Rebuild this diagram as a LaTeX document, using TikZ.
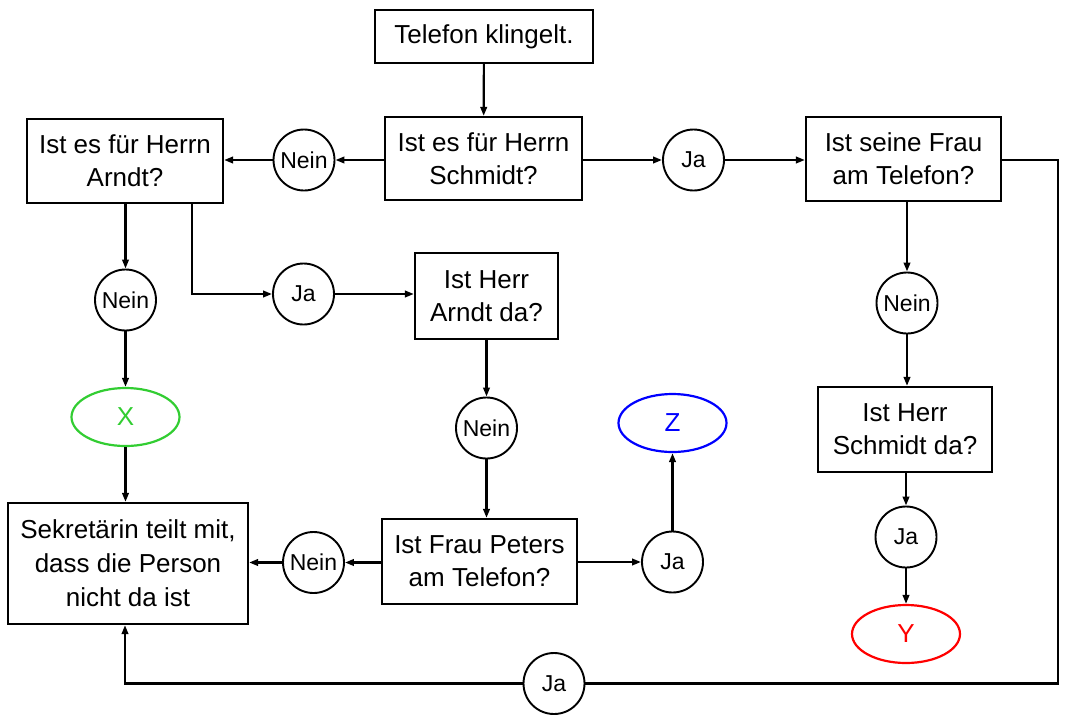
\documentclass[tikz,border=0pt]{standalone}
\usepackage{fontspec}
\setmainfont{Liberation Sans}
\usetikzlibrary{arrows.meta,shapes.geometric}
\definecolor{xgreen}{RGB}{50,205,50}
\begin{document}
\begin{tikzpicture}[x=1pt,y=-1pt,
  box/.style={draw,line width=2.2pt,align=center,inner sep=0pt,font=\fontsize{26}{33}\selectfont},
  dec/.style={circle,draw,line width=1.9pt,minimum size=61pt,inner sep=0pt,font=\fontsize{23}{26}\selectfont},
  term/.style={ellipse,draw,line width=2.2pt,minimum width=108pt,minimum height=58pt,inner sep=0pt,font=\fontsize{26}{30}\selectfont},
  arr/.style={line width=2.2pt,-{Triangle[length=9pt,width=6.5pt]}},
  ln/.style={line width=2.2pt}]
\useasboundingbox (0,0) rectangle (1065,718);
% boxes
\node[box,minimum width=218pt,minimum height=53pt] (tel) at (484,36.5) {Telefon klingelt.};
\node[box,minimum width=197pt,minimum height=83pt] (sch) at (483.5,158.5) {Ist es für Herrn\\Schmidt?};
\node[box,minimum width=196pt,minimum height=84pt] (arn) at (125,161) {Ist es für Herrn\\Arndt?};
\node[box,minimum width=195pt,minimum height=84pt] (frau) at (903.5,159) {Ist seine Frau\\am Telefon?};
\node[box,minimum width=143pt,minimum height=86pt] (arnda) at (486.5,296) {Ist Herr\\Arndt da?};
\node[box,minimum width=174pt,minimum height=85pt] (schda) at (905,429.5) {Ist Herr\\Schmidt da?};
\node[box,minimum width=195pt,minimum height=85pt] (pet) at (479.5,561.5) {Ist Frau Peters\\am Telefon?};
\node[box,minimum width=240pt,minimum height=121pt,font=\fontsize{26}{34}\selectfont] (sek) at (128,563.5) {Sekretärin teilt mit,\\dass die Person\\nicht da ist};
% decisions
\node[dec] (n1) at (304,160) {Nein};
\node[dec] (j1) at (693.5,160) {Ja};
\node[dec] (n2) at (125.5,300) {Nein};
\node[dec] (j2) at (303.5,294) {Ja};
\node[dec] (n3) at (486.5,428) {Nein};
\node[dec] (n4) at (313.5,562.5) {Nein};
\node[dec] (j3) at (672.5,562) {Ja};
\node[dec] (n5) at (907,303) {Nein};
\node[dec] (j4) at (906,537) {Ja};
\node[dec] (j5) at (554,683.5) {Ja};
% terminals
\node[term,draw=xgreen,text=xgreen] (X) at (125.5,417) {X};
\node[term,draw=blue,text=blue] (Z) at (672.5,423) {Z};
\node[term,draw=red,text=red] (Y) at (906,634) {Y};
% connectors
\draw[arr] (tel) -- (sch);
\draw[arr] (sch.west |- n1) -- (n1);
\draw[arr] (n1) -- (n1 -| arn.east);
\draw[arr] (sch.east |- j1) -- (j1);
\draw[arr] (j1) -- (j1 -| frau.west);
\draw[arr] (arn.south -| n2) -- (n2);
\draw[arr] (n2) -- (X);
\draw[arr] (X) -- (X |- sek.north);
\draw[arr] ([xshift=67pt]arn.south) |- (j2);
\draw[arr] (j2) -- (j2 -| arnda.west);
\draw[arr] (arnda) -- (n3);
\draw[arr] (n3) -- (pet.north -| n3);
\draw[arr] (pet.west |- n4) -- (n4);
\draw[arr] (n4) -- (n4 -| sek.east);
\draw[arr] (pet.east |- j3) -- (j3);
\draw[arr] (j3) -- (Z);
\draw[arr] (frau.south -| n5) -- (n5);
\draw[arr] (n5) -- (n5 |- schda.north);
\draw[arr] (schda.south -| j4) -- (j4);
\draw[arr] (j4) -- (j4 |- Y.north);
\coordinate (rt) at (1058,160);
\coordinate (rb) at (1058,683.5);
\draw[ln] (frau.east |- rt) -- (rt) -- (rb) -- (j5);
\draw[arr] (j5) -| ([xshift=-3pt]sek.south);
\end{tikzpicture}
\end{document}
